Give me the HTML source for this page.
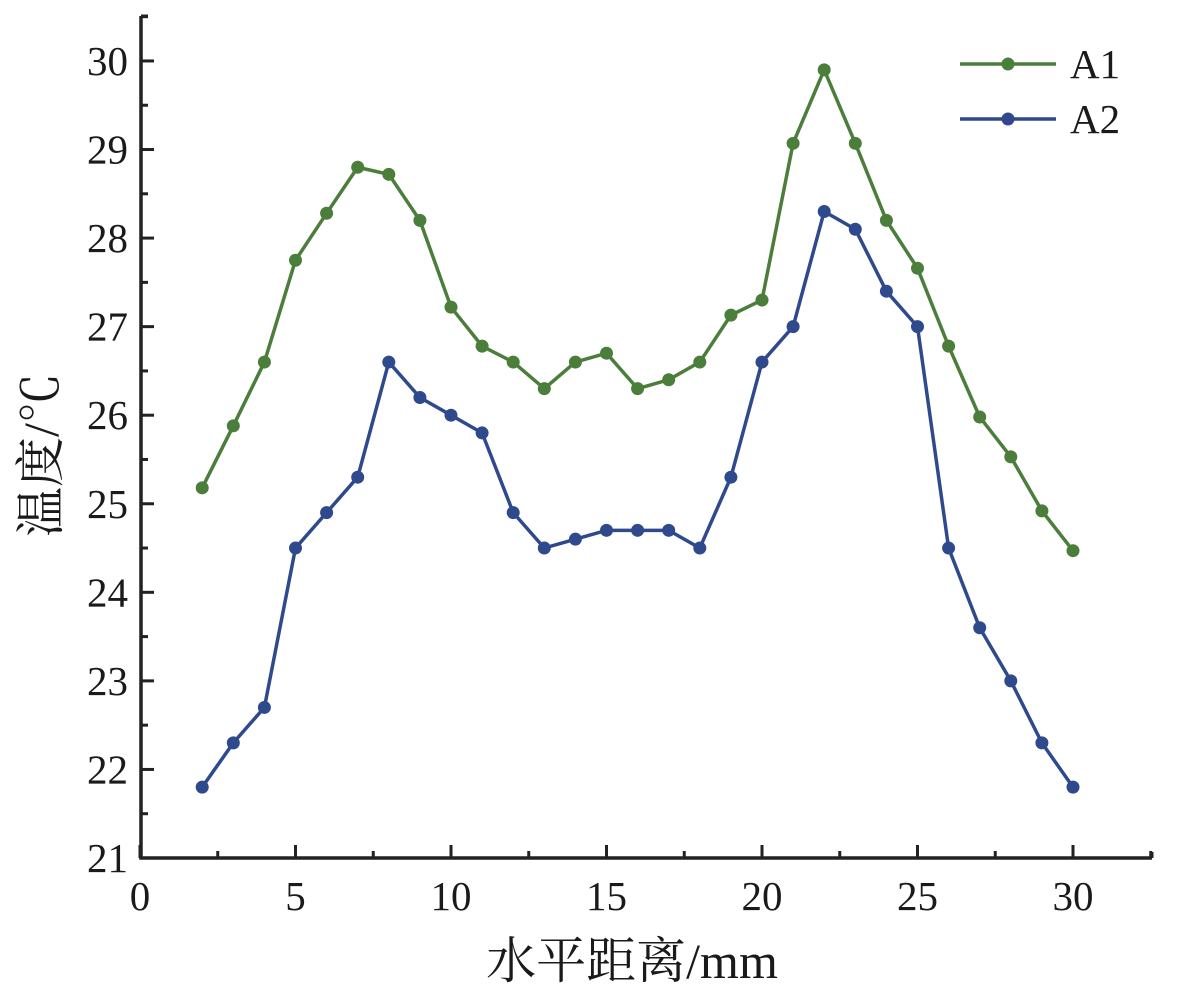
<!DOCTYPE html>
<html><head><meta charset="utf-8"><style>
body{margin:0;background:#fff}
svg{display:block}
text{font-family:"Liberation Serif","Noto Serif CJK SC",serif;fill:#1a1a1a}
</style></head><body>
<svg id="chart" width="1181" height="993" viewBox="0 0 1181 993" xmlns="http://www.w3.org/2000/svg"></svg>
<script>
const xValues=[2,3,4,5,6,7,8,9,10,11,12,13,14,15,16,17,18,19,20,21,22,23,24,25,26,27,28,29,30];
const seriesA1=[25.18,25.88,26.6,27.75,28.28,28.8,28.72,28.2,27.22,26.78,26.6,26.3,26.6,26.7,26.3,26.4,26.6,27.13,27.3,29.07,29.9,29.07,28.2,27.66,26.78,25.98,25.53,24.92,24.47];
const seriesA2=[21.8,22.3,22.7,24.5,24.9,25.3,26.6,26.2,26.0,25.8,24.9,24.5,24.6,24.7,24.7,24.7,24.5,25.3,26.6,27.0,28.3,28.1,27.4,27.0,24.5,23.6,23.0,22.3,21.8];
const xTicks=[0,5,10,15,20,25,30];
const yTicks=[21,22,23,24,25,26,27,28,29,30];
const seriesNames=["A1","A2"];

const NS="http://www.w3.org/2000/svg";
const svg=document.getElementById('chart');
const X0=141,Y0=858;
const sx=v=>140+v*31.1;
const sy=v=>858-(v-21)*88.56;
function mk(tag,attrs,parent){const e=document.createElementNS(NS,tag);for(const k in attrs)e.setAttribute(k,attrs[k]);(parent||svg).appendChild(e);return e;}

const ax=mk('path',{d:`M${X0} 16 L${X0} ${Y0} L1152 ${Y0}`,stroke:'#222','stroke-width':3.5,fill:'none'});


mk('line',{x1:X0,y1:16,x2:148,y2:16,stroke:'#222','stroke-width':3});
mk('line',{x1:1152,y1:Y0,x2:1152,y2:852,stroke:'#222','stroke-width':3});
for(let v=0;v<=32.5;v+=2.5){const major=v%5===0;mk('line',{x1:sx(v),y1:Y0,x2:sx(v),y2:Y0-(major?13:7),stroke:'#222','stroke-width':3});}
xTicks.forEach(v=>{const t=mk('text',{x:sx(v),y:910,'font-size':41,'text-anchor':'middle'});t.textContent=v;

});
for(let v=21;v<=30.5;v+=0.5){const major=Math.abs(v-Math.round(v))<1e-6;mk('line',{x1:X0,y1:sy(v),x2:X0+(major?13:7),y2:sy(v),stroke:'#222','stroke-width':3});}
yTicks.forEach(v=>{const t=mk('text',{x:128,y:sy(v)+14,'font-size':41,'text-anchor':'end'});t.textContent=v;

});
const xt=mk('text',{x:632,y:978,'font-size':50,'text-anchor':'middle'});xt.textContent='水平距离/mm';


const yt=mk('text',{x:0,y:0,'font-size':50,'text-anchor':'middle',transform:'translate(58,455) rotate(-90)'});yt.textContent='温度/℃';



const colors=['#4b7d3b','#2f4a8c'];
[seriesA1,seriesA2].forEach((s,i)=>{
  const g=mk('g',{});
  
  
  mk('polyline',{points:s.map((v,j)=>sx(xValues[j])+','+sy(v)).join(' '),fill:'none',stroke:colors[i],'stroke-width':3.5},g);
  s.forEach((v,j)=>{const c=mk('circle',{cx:sx(xValues[j]),cy:sy(v),r:6.5,fill:colors[i]},g);
    
    });
  const ly=64+i*55;
  const lg=mk('g',{});
  
  
  mk('line',{x1:960,y1:ly,x2:1056,y2:ly,stroke:colors[i],'stroke-width':3.5},lg);
  mk('circle',{cx:1008,cy:ly,r:6.5,fill:colors[i]},lg);
  const lt=mk('text',{x:1070,y:ly+14,'font-size':41},lg);lt.textContent=seriesNames[i];
});
</script>
</body></html>
